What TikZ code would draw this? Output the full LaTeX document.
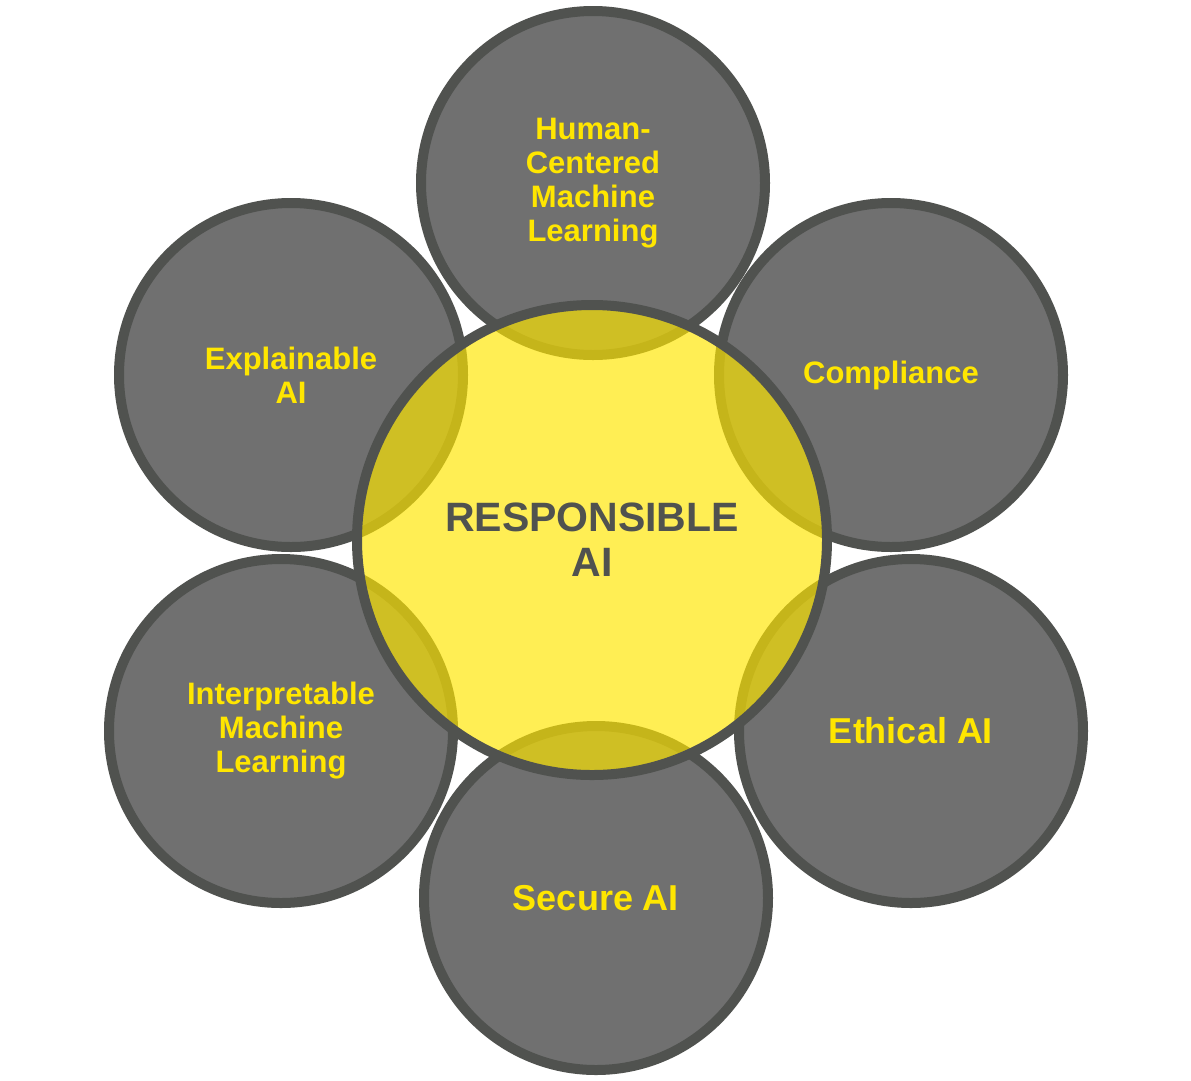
\documentclass[tikz,border=0pt]{standalone}
\usepackage{fontspec}
\setmainfont{Liberation Sans}
\definecolor{petalgray}{RGB}{112,112,112}
\definecolor{rim}{RGB}{80,82,79}
\definecolor{sun}{RGB}{255,230,0}
\definecolor{gold}{RGB}{255,230,0}
\begin{document}
\begin{tikzpicture}[x=1pt,y=-1pt,
  petal/.style={circle,draw=rim,fill=petalgray,line width=10pt,minimum size=344pt,
    inner sep=0pt,align=center,text=gold,font=\bfseries\fontsize{31}{34}\selectfont},
  bigtext/.style={font=\bfseries\fontsize{36}{40}\selectfont},
  core/.style={circle,draw=rim,fill=sun,fill opacity=0.67,draw opacity=1,text opacity=1,
    line width=10pt,minimum size=470pt,inner sep=0pt,align=center,text=rim,
    font=\bfseries\fontsize{41}{45}\selectfont}]
\useasboundingbox (0,0) rectangle (1191,1080);
\fill[white] (0,0) rectangle (1191,1080);
\node[petal] (hcml) at (593,183) {Human-\\Centered\\Machine\\Learning};
\node[petal] (comp) at (891,375) {Compliance};
\node[petal,bigtext] (eth) at (911,731) {Ethical AI};
\node[petal,bigtext] (sec) at (596,898) {Secure AI};
\node[petal] (iml) at (281,731) {Interpretable\\Machine\\Learning};
\node[petal] (xai) at (291,375) {Explainable\\AI};
\node[core] (rai) at (592,540) {RESPONSIBLE\\AI};
\end{tikzpicture}
\end{document}
